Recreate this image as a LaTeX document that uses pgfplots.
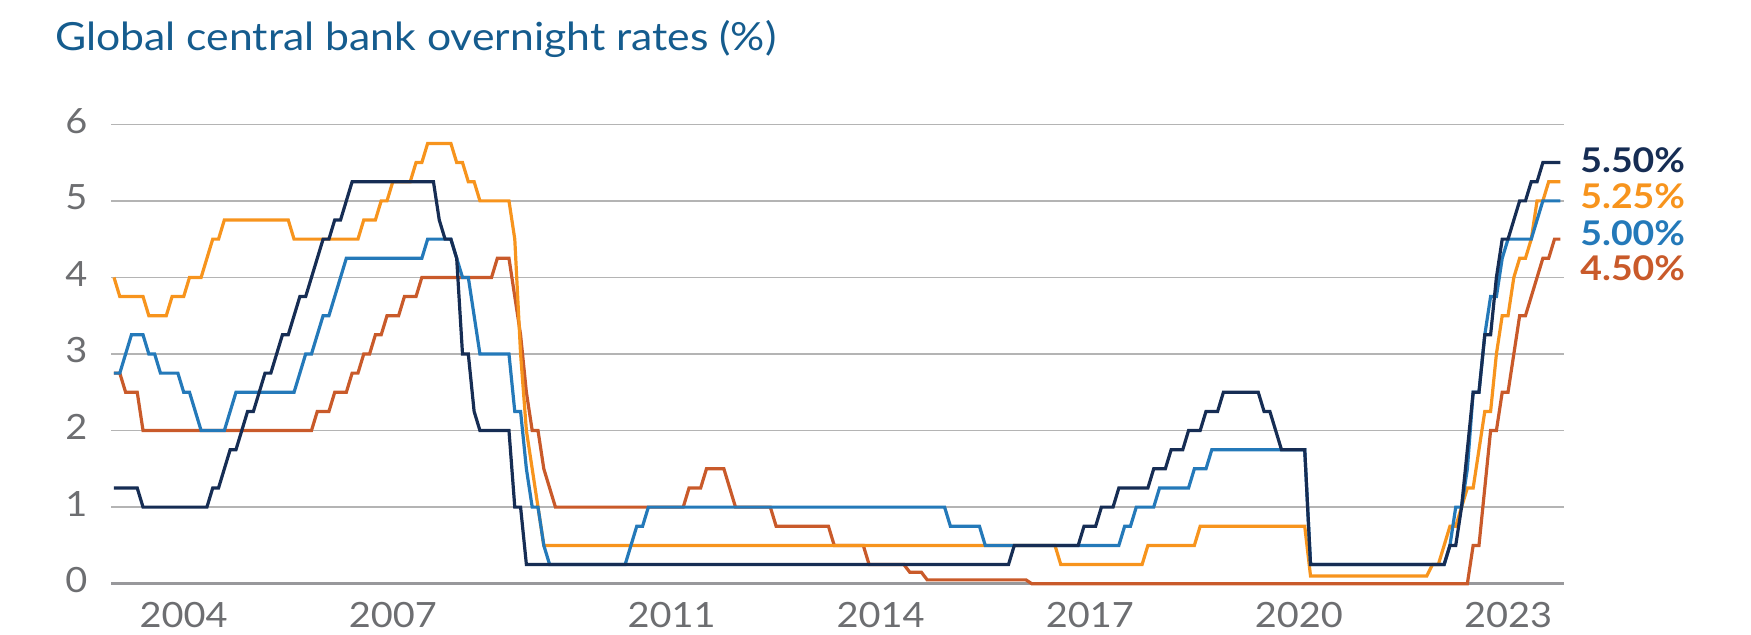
\documentclass[border=0pt]{standalone}
\usepackage{fontspec}
\setmainfont{Lato}
\newfontfamily\titlefont[FakeStretch=1.1]{Lato}
\newfontfamily\tickfont[FakeStretch=1.09]{Lato}
\newfontfamily\labfont[FakeStretch=1.1]{Lato}
\usepackage{pgfplots}
\usepackage{pgfplotstable}
\pgfplotsset{compat=1.18}

\definecolor{cnavy}{HTML}{162D54}
\definecolor{corange}{HTML}{F7941D}
\definecolor{cblue}{HTML}{2479B9}
\definecolor{cred}{HTML}{C95A2A}
\definecolor{titleblue}{HTML}{155C8E}
\definecolor{ticktext}{HTML}{6D6E71}
\definecolor{gridgrey}{HTML}{B4B4B4}
\definecolor{axisgrey}{HTML}{98989B}

% Fed (upper bound), month-end values
\pgfplotstableread{
y m v
2003 1 1.25
2003 5 1.25
2003 6 1.00
2004 5 1.00
2004 6 1.25
2004 7 1.25
2004 8 1.50
2004 9 1.75
2004 10 1.75
2004 11 2.00
2004 12 2.25
2005 1 2.25
2005 2 2.50
2005 3 2.75
2005 4 2.75
2005 5 3.00
2005 6 3.25
2005 7 3.25
2005 8 3.50
2005 9 3.75
2005 10 3.75
2005 11 4.00
2005 12 4.25
2006 1 4.50
2006 2 4.50
2006 3 4.75
2006 4 4.75
2006 5 5.00
2006 6 5.25
2007 8 5.25
2007 9 4.75
2007 10 4.50
2007 11 4.50
2007 12 4.25
2008 1 3.00
2008 2 3.00
2008 3 2.25
2008 4 2.00
2008 9 2.00
2008 10 1.00
2008 11 1.00
2008 12 0.25
2015 11 0.25
2015 12 0.50
2016 11 0.50
2016 12 0.75
2017 2 0.75
2017 3 1.00
2017 5 1.00
2017 6 1.25
2017 11 1.25
2017 12 1.50
2018 2 1.50
2018 3 1.75
2018 5 1.75
2018 6 2.00
2018 8 2.00
2018 9 2.25
2018 11 2.25
2018 12 2.50
2019 6 2.50
2019 7 2.25
2019 8 2.25
2019 9 2.00
2019 10 1.75
2020 2 1.75
2020 3 0.25
2022 2 0.25
2022 3 0.50
2022 4 0.50
2022 5 1.00
2022 6 1.75
2022 7 2.50
2022 8 2.50
2022 9 3.25
2022 10 3.25
2022 11 4.00
2022 12 4.50
2023 1 4.50
2023 2 4.75
2023 3 5.00
2023 4 5.00
2023 5 5.25
2023 6 5.25
2023 7 5.50
2023 10 5.50
}\fedtab

% Bank of England
\pgfplotstableread{
y m v
2003 1 4.00
2003 2 3.75
2003 6 3.75
2003 7 3.50
2003 10 3.50
2003 11 3.75
2004 1 3.75
2004 2 4.00
2004 4 4.00
2004 5 4.25
2004 6 4.50
2004 7 4.50
2004 8 4.75
2005 7 4.75
2005 8 4.50
2006 7 4.50
2006 8 4.75
2006 10 4.75
2006 11 5.00
2006 12 5.00
2007 1 5.25
2007 4 5.25
2007 5 5.50
2007 6 5.50
2007 7 5.75
2007 11 5.75
2007 12 5.50
2008 1 5.50
2008 2 5.25
2008 3 5.25
2008 4 5.00
2008 9 5.00
2008 10 4.50
2008 11 3.00
2008 12 2.00
2009 1 1.50
2009 2 1.00
2009 3 0.50
2016 7 0.50
2016 8 0.25
2017 10 0.25
2017 11 0.50
2018 7 0.50
2018 8 0.75
2020 2 0.75
2020 3 0.10
2021 11 0.10
2021 12 0.25
2022 1 0.25
2022 2 0.50
2022 3 0.75
2022 4 0.75
2022 5 1.00
2022 6 1.25
2022 7 1.25
2022 8 1.75
2022 9 2.25
2022 10 2.25
2022 11 3.00
2022 12 3.50
2023 1 3.50
2023 2 4.00
2023 3 4.25
2023 4 4.25
2023 5 4.50
2023 6 5.00
2023 7 5.00
2023 8 5.25
2023 10 5.25
}\boetab

% Bank of Canada
\pgfplotstableread{
y m v
2003 1 2.75
2003 2 2.75
2003 3 3.00
2003 4 3.25
2003 6 3.25
2003 7 3.00
2003 8 3.00
2003 9 2.75
2003 12 2.75
2004 1 2.50
2004 2 2.50
2004 3 2.25
2004 4 2.00
2004 8 2.00
2004 9 2.25
2004 10 2.50
2005 8 2.50
2005 9 2.75
2005 10 3.00
2005 11 3.00
2005 12 3.25
2006 1 3.50
2006 2 3.50
2006 3 3.75
2006 4 4.00
2006 5 4.25
2007 6 4.25
2007 7 4.50
2007 11 4.50
2007 12 4.25
2008 1 4.00
2008 2 4.00
2008 3 3.50
2008 4 3.00
2008 9 3.00
2008 10 2.25
2008 11 2.25
2008 12 1.50
2009 1 1.00
2009 2 1.00
2009 3 0.50
2009 4 0.25
2010 5 0.25
2010 6 0.50
2010 7 0.75
2010 8 0.75
2010 9 1.00
2014 12 1.00
2015 1 0.75
2015 6 0.75
2015 7 0.50
2017 6 0.50
2017 7 0.75
2017 8 0.75
2017 9 1.00
2017 12 1.00
2018 1 1.25
2018 6 1.25
2018 7 1.50
2018 9 1.50
2018 10 1.75
2020 2 1.75
2020 3 0.25
2022 2 0.25
2022 3 0.50
2022 4 1.00
2022 5 1.00
2022 6 1.50
2022 7 2.50
2022 8 2.50
2022 9 3.25
2022 10 3.75
2022 11 3.75
2022 12 4.25
2023 1 4.50
2023 5 4.50
2023 6 4.75
2023 7 5.00
2023 10 5.00
}\boctab

% ECB main refinancing rate
\pgfplotstableread{
y m v
2003 1 2.75
2003 2 2.75
2003 3 2.50
2003 5 2.50
2003 6 2.00
2005 11 2.00
2005 12 2.25
2006 2 2.25
2006 3 2.50
2006 5 2.50
2006 6 2.75
2006 7 2.75
2006 8 3.00
2006 9 3.00
2006 10 3.25
2006 11 3.25
2006 12 3.50
2007 2 3.50
2007 3 3.75
2007 5 3.75
2007 6 4.00
2008 6 4.00
2008 7 4.25
2008 9 4.25
2008 10 3.75
2008 11 3.25
2008 12 2.50
2009 1 2.00
2009 2 2.00
2009 3 1.50
2009 4 1.25
2009 5 1.00
2011 3 1.00
2011 4 1.25
2011 6 1.25
2011 7 1.50
2011 10 1.50
2011 11 1.25
2011 12 1.00
2012 6 1.00
2012 7 0.75
2013 4 0.75
2013 5 0.50
2013 10 0.50
2013 11 0.25
2014 5 0.25
2014 6 0.15
2014 8 0.15
2014 9 0.05
2016 2 0.05
2016 3 0.00
2022 6 0.00
2022 7 0.50
2022 8 0.50
2022 9 1.25
2022 10 2.00
2022 11 2.00
2022 12 2.50
2023 1 2.50
2023 2 3.00
2023 3 3.50
2023 4 3.50
2023 5 3.75
2023 6 4.00
2023 7 4.25
2023 8 4.25
2023 9 4.50
2023 10 4.50
}\ecbtab

\begin{document}
\begin{tikzpicture}
\useasboundingbox (0,0) rectangle (875.5pt,317.5pt);
\node[anchor=base west, inner sep=0pt, text=titleblue,
      font=\titlefont\fontsize{19.4}{23}\selectfont] at (27.5pt,292.15pt)
      {Global central bank overnight rates (\%)};
\begin{axis}[
  at={(55.5pt,25.65pt)}, anchor=south west,
  scale only axis, width=726.25pt, height=229.7pt,
  xmin=2002.957, xmax=2023.796, ymin=0, ymax=6,
  clip=false,
  axis line style={draw=none},
  major tick length=0pt,
  ytick={0,1,2,3,4,5,6},
  xtick={2004,2007,2011,2014,2017,2020,2023},
  xticklabels={2004,2007,2011,2014,2017,2020,2023},
  /pgf/number format/assume math mode=true,
  ymajorgrids,
  grid style={draw=gridgrey, line width=0.65pt},
  ticklabel style={font=\tickfont\fontsize{17.4}{20}\selectfont, text=ticktext, inner sep=0pt},
  yticklabel style={anchor=east, xshift=-11.6pt, yshift=1.8pt},
  xticklabel style={anchor=north, yshift=-9pt},
  every axis plot/.append style={line width=1.6pt, mark=none},
]
\draw[axisgrey, line width=1.2pt] (axis cs:2002.957,0) -- (axis cs:2023.796,0);
\addplot[cred]    table[x expr=\thisrow{y}+(\thisrow{m}-1)/12, y=v] {\ecbtab};
\addplot[corange] table[x expr=\thisrow{y}+(\thisrow{m}-1)/12, y=v] {\boetab};
\addplot[cblue]   table[x expr=\thisrow{y}+(\thisrow{m}-1)/12, y=v] {\boctab};
\addplot[cnavy]   table[x expr=\thisrow{y}+(\thisrow{m}-1)/12, y=v] {\fedtab};
\node[anchor=base west, inner sep=0pt, xshift=8.25pt, text=cnavy,
      font=\labfont\bfseries\fontsize{17}{19}\selectfont] at (axis cs:2023.796,5.368) {5.50\%};
\node[anchor=base west, inner sep=0pt, xshift=8.25pt, text=corange,
      font=\labfont\bfseries\fontsize{17}{19}\selectfont] at (axis cs:2023.796,4.903) {5.25\%};
\node[anchor=base west, inner sep=0pt, xshift=8.25pt, text=cblue,
      font=\labfont\bfseries\fontsize{17}{19}\selectfont] at (axis cs:2023.796,4.423) {5.00\%};
\node[anchor=base west, inner sep=0pt, xshift=8.25pt, text=cred,
      font=\labfont\bfseries\fontsize{17}{19}\selectfont] at (axis cs:2023.796,3.966) {4.50\%};
\end{axis}
\end{tikzpicture}
\end{document}
